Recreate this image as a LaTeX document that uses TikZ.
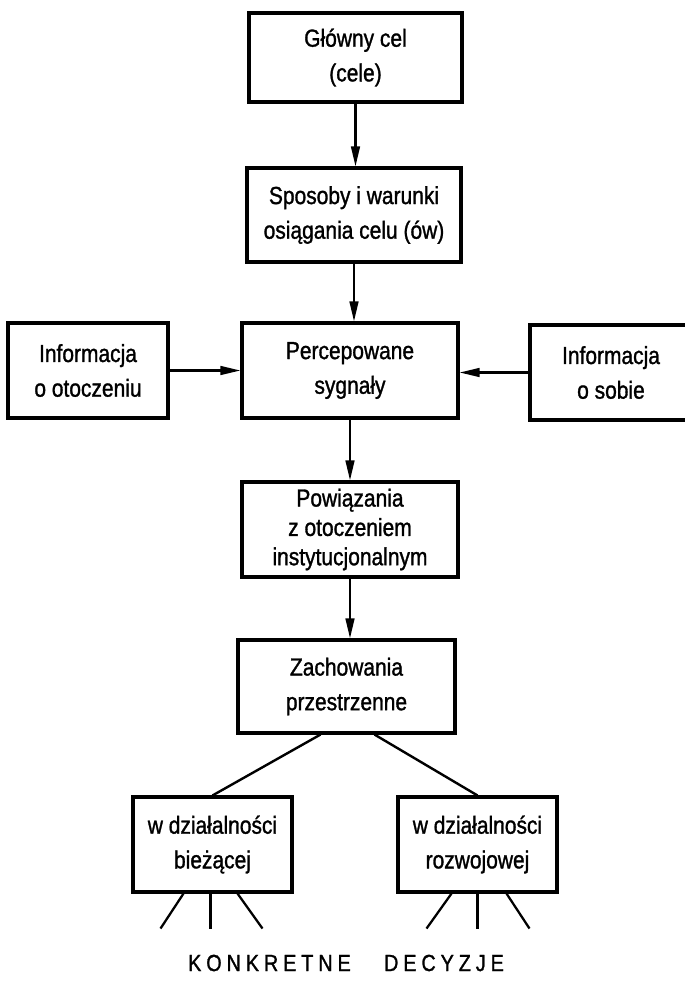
\documentclass[tikz,border=0pt]{standalone}
\usepackage{fontspec}
\setmainfont[FakeStretch=0.85,FakeBold=1.2]{Liberation Sans}
\usetikzlibrary{arrows.meta}
\begin{document}
\begin{tikzpicture}[x=0.75pt,y=-0.75pt,
  box/.style={draw, line width=2.3pt, align=center, inner sep=0pt,
    font=\fontsize{18.5}{26}\selectfont},
  conn/.style={line width=1.8pt},
  arr/.style={conn, -{Triangle[length=15pt,width=6.5pt]}},
  fan/.style={line width=1.7pt}]
\clip (0,0) rectangle (685,982);
\fill[white] (0,0) rectangle (685,982);

% main column
\node[box, minimum width=159.75pt, minimum height=66.75pt] (cel) at (355.5,57.5) {Główny cel\\(cele)};
\node[box, minimum width=160.5pt, minimum height=70.5pt] (sposoby) at (354,215) {Sposoby i warunki\\osiągania celu (ów)};
\node[box, minimum width=162pt, minimum height=71.25pt] (sygnaly) at (350,370.5) {Percepowane\\sygnały};
\node[box, minimum width=162pt, minimum height=71.25pt, font=\fontsize{18.5}{22}\selectfont] (powiazania) at (350,529.5) {Powiązania\\z otoczeniem\\instytucjonalnym};
\node[box, minimum width=162.75pt, minimum height=69.75pt] (zachowania) at (346.5,686.5) {Zachowania\\przestrzenne};

% side inputs
\node[box, minimum width=120pt, minimum height=71.25pt] (otoczenie) at (88,370.5) {Informacja\\o otoczeniu};
\node[box, minimum width=121.5pt, minimum height=71.25pt] (sobie) at (611,372.5) {Informacja\\o sobie};

% two kinds of activity
\node[box, minimum width=119.25pt, minimum height=71.25pt] (biezaca) at (212.5,844.5) {w działalności\\bieżącej};
\node[box, minimum width=119.25pt, minimum height=71.25pt] (rozwojowa) at (477.5,844.5) {w działalności\\rozwojowej};

\node[font=\fontsize{17.5}{20}\selectfont\addfontfeature{LetterSpace=21}] (decyzje) at (346,963) {KONKRETNE\hspace{25pt}DECYZJE};

% arrows down the column
\draw[arr] (cel.south) -- (cel.south |- sposoby.north);
\draw[arr] (sposoby.south) -- (sposoby.south |- sygnaly.north);
\draw[arr] (sygnaly.south) -- (sygnaly.south |- powiazania.north);
\draw[arr] (powiazania.south) -- (powiazania.south |- zachowania.north);

% side arrows
\draw[arr] (otoczenie.east) -- (otoczenie.east -| sygnaly.west);
\draw[arr] (sobie.west) -- (sobie.west -| sygnaly.east);

% branches
\draw[conn] (zachowania.south) ++(-26,0) -- (biezaca.north);
\draw[conn] (zachowania.south) ++(28,0) -- (rozwojowa.north);

% fans of decisions
\draw[fan] (biezaca.south) ++(-29,0) -- ++(-23,35);
\draw[fan] (biezaca.south) ++(-2,0) -- ++(0,35);
\draw[fan] (biezaca.south) ++(25,0) -- ++(25,35);
\draw[fan] (rozwojowa.south) ++(-26,0) -- ++(-25,35);
\draw[fan] (rozwojowa.south) ++(0,0) -- ++(0,35);
\draw[fan] (rozwojowa.south) ++(29,0) -- ++(23,35);
\end{tikzpicture}
\end{document}
